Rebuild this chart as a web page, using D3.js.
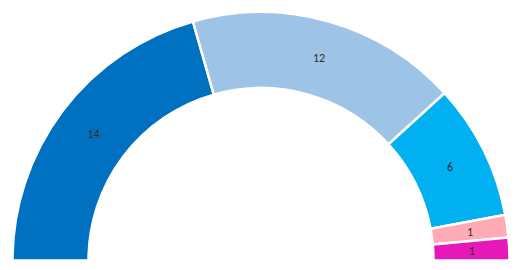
<!DOCTYPE html>
<html><head><meta charset="utf-8">
<script src="https://cdn.jsdelivr.net/npm/d3@7"></script>
<style>html,body{margin:0;padding:0;background:#fff;}</style>
</head><body>
<svg id="chart" width="521" height="270"></svg>
<script>
const categories = ["A","B","C","D","E"];
const values = [14, 12, 6, 1, 1];
const colors = ["#0070C0", "#9DC3E6", "#00B0F0", "#FFABB6", "#E619B8"];

const svg = d3.select("#chart");
const cx = 261, cy = 260.5, rOut = 248.5, rIn = 172.5;
const g = svg.append("g").attr("transform", `translate(${cx},${cy})`);

const pie = d3.pie().sort(null).value(d => d.v)
  .startAngle(-Math.PI/2).endAngle(Math.PI/2);
const data = pie(categories.map((c,i) => ({c, v: values[i], col: colors[i]})));
const arc = d3.arc().innerRadius(rIn).outerRadius(rOut);

g.selectAll("path").data(data).enter().append("path")
  .attr("d", arc)
  .attr("fill", d => d.data.col)
  .attr("stroke", "#fff")
  .attr("stroke-width", 2.5)
  .attr("stroke-linejoin", "miter");

const labelArc = d3.arc().innerRadius((rIn+rOut)/2).outerRadius((rIn+rOut)/2);
g.selectAll("text").data(data).enter().append("text")
  .attr("transform", d => { const p = labelArc.centroid(d); return `translate(${p[0]+0.5},${p[1]+1.5})`; })
  .attr("text-anchor", "middle")
  .attr("dominant-baseline", "middle")
  .attr("font-family", "Calibri, Carlito, 'Liberation Sans', Arial, sans-serif")
  .attr("font-size", 12)
  .attr("fill", "#303030")
  .text(d => d.data.v);
</script>
</body></html>
